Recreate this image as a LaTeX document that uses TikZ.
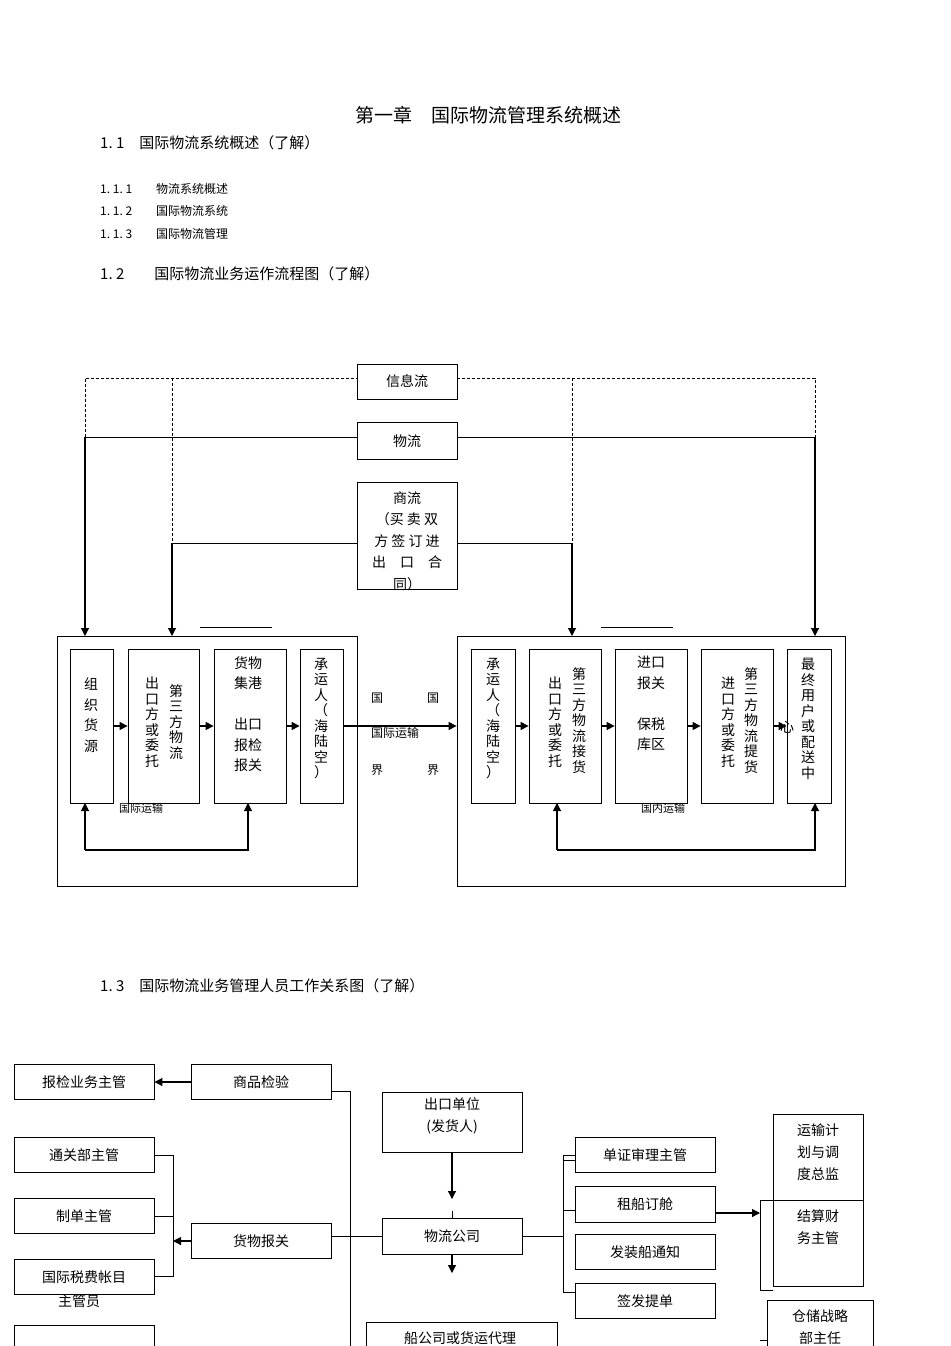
\documentclass[tikz,border=0pt]{standalone}
\usepackage{fontspec}
\setmainfont{Noto Sans CJK SC}
\usetikzlibrary{arrows.meta}
\begin{document}
\begin{tikzpicture}[x=1pt,y=-1pt,
  bx/.style={draw,line width=0.8pt,inner sep=0},
  vt/.style={align=center,font=\fontsize{14}{20.5}\selectfont,inner sep=0},
  vs/.style={align=center,font=\fontsize{14}{15.5}\selectfont,inner sep=0},
  t/.style={font=\fontsize{14}{16}\selectfont,inner sep=0},
  ar/.style={-{Triangle[length=8pt,width=8pt]},line width=1.1pt},
  ln/.style={line width=1pt},
  dl/.style={dash pattern=on 3pt off 2pt,line width=0.7pt}]
\useasboundingbox (0,0) rectangle (950,1346);
% headings
\node[font=\fontsize{19}{22}\selectfont] (h0) at (488,115) {第一章\quad 国际物流管理系统概述};
\node[t,anchor=west,font=\fontsize{15}{17}\selectfont] (h1) at (100,143) {1.\ 1\quad 国际物流系统概述（了解）};
\node[t,anchor=west,font=\fontsize{12}{14}\selectfont] (h11) at (100,189) {1.\ 1.\ 1\qquad 物流系统概述};
\node[t,anchor=west,font=\fontsize{12}{14}\selectfont] (h12) at (100,211) {1.\ 1.\ 2\qquad 国际物流系统};
\node[t,anchor=west,font=\fontsize{12}{14}\selectfont] (h13) at (100,234) {1.\ 1.\ 3\qquad 国际物流管理};
\node[t,anchor=west,font=\fontsize{15}{17}\selectfont] (h2) at (100,274) {1.\ 2\qquad 国际物流业务运作流程图（了解）};
\node[t,anchor=west,font=\fontsize{15}{17}\selectfont] (h3) at (100,986) {1.\ 3\quad 国际物流业务管理人员工作关系图（了解）};
% top flow boxes
\node[bx,minimum width=100,minimum height=35] (xx) at (407,382) {};
\node[t] at (407,381) {信息流};
\node[bx,minimum width=100,minimum height=37] (wl) at (407,441) {};
\node[t] at (407,441) {物流};
\node[bx,minimum width=100,minimum height=107] (sl) at (407,536) {};
\node[t,align=center,font=\fontsize{14}{21.5}\selectfont] at (407,541) {商流\\（买 卖 双\\方 签 订 进\\出\quad 口\quad 合\\同）};
\coordinate (d1) at (85,378); \coordinate (d2) at (172,378);
\coordinate (d3) at (572,378); \coordinate (d4) at (815,378);
\draw[dl] (85,437) -- (d1) -- (xx.west |- d1);
\draw[dl] (xx.east |- d4) -- (d4) -- (815,437);
\draw[dl] (d2) -- (172,543);
\draw[dl] (d3) -- (572,543);
\draw[ln] (wl.west |- 0,437) -- (85,437);
\draw[ln] (wl.east |- 0,437) -- (815,437);
\draw[ln] (sl.west |- 0,543) -- (172,543);
\draw[ln] (sl.east |- 0,543) -- (572,543);
\draw[ar] (85,437) -- (85,636);
\draw[ar] (815,437) -- (815,636);
\draw[ar] (172,543) -- (172,636);
\draw[ar] (572,543) -- (572,636);
\draw[line width=0.6pt] (200,627) -- (272,627);
\draw[line width=0.6pt] (601,627) -- (673,627);
% big boxes
\node[bx,minimum width=300,minimum height=250] (L) at (207,761) {};
\node[bx,minimum width=388,minimum height=250] (R) at (651,761) {};
% left inner
\node[bx,minimum width=43,minimum height=154] (a1) at (91.5,726) {};
\node[bx,minimum width=71,minimum height=154] (a2) at (163.5,726) {};
\node[bx,minimum width=72,minimum height=154] (a3) at (250,726) {};
\node[bx,minimum width=43,minimum height=154] (a4) at (321.5,726) {};
\node[vt,anchor=north] at (91,678) {组\\织\\货\\源};
\node[vs,anchor=north] at (152,677) {出\\口\\方\\或\\委\\托};
\node[vs,anchor=north] at (176,684) {第\\三\\方\\物\\流};
\node[vt,anchor=north] at (248,656) {货物\\集港\\\\出口\\报检\\报关};
\node[vs,anchor=north] at (321,658) {承\\运\\人\\（\\海\\陆\\空\\）};
\draw[ar] (a1) -- (a2);
\draw[ar] (a2) -- (a3);
\draw[ar] (a3) -- (a4);
% right inner
\node[bx,minimum width=44,minimum height=154] (b1) at (493,726) {};
\node[bx,minimum width=72,minimum height=154] (b2) at (565,726) {};
\node[bx,minimum width=72,minimum height=154] (b3) at (651,726) {};
\node[bx,minimum width=72,minimum height=154] (b4) at (737,726) {};
\node[bx,minimum width=44,minimum height=154] (b5) at (809,726) {};
\node[vs,anchor=north] at (493,658) {承\\运\\人\\（\\海\\陆\\空\\）};
\node[vs,anchor=north] at (555,677) {出\\口\\方\\或\\委\\托};
\node[vs,anchor=north] at (579,667) {第\\三\\方\\物\\流\\接\\货};
\node[vt,anchor=north] at (651,656) {进口\\报关\\\\保税\\库区};
\node[vs,anchor=north] at (728,677) {进\\口\\方\\或\\委\\托};
\node[vs,anchor=north] at (751,667) {第\\三\\方\\物\\流\\提\\货};
\node[vs,anchor=north] at (808,658) {最\\终\\用\\户\\或\\配\\送\\中};
\node[t] at (787,727) {心};
\draw[ar] (b1) -- (b2);
\draw[ar] (b2) -- (b3);
\draw[ar] (b3) -- (b4);
\draw[ar] (b4) -- (b5);
\draw[ar] (a4.east) -- (R.west |- a4.east);
\node[t,font=\fontsize{12}{13}\selectfont] at (377,698) {国};
\node[t,font=\fontsize{12}{13}\selectfont] at (433,698) {国};
\node[t,font=\fontsize{12}{13}\selectfont] at (395,733) {国际运输};
\node[t,font=\fontsize{12}{13}\selectfont] at (377,770) {界};
\node[t,font=\fontsize{12}{13}\selectfont] at (433,770) {界};
\node[t,font=\fontsize{11}{12}\selectfont] at (141,808) {国际运输};
\node[t,font=\fontsize{11}{12}\selectfont] at (663,808) {国内运输};
\coordinate (fl) at (85,850); \coordinate (fr) at (248,850);
\draw[ar] (fl) -- (85,803);
\draw[ar] (fl) -- (fr) -- (248,803);
\coordinate (gl) at (557,850); \coordinate (gr) at (815,850);
\draw[ar] (gl) -- (557,803);
\draw[ar] (gl) -- (gr) -- (815,803);
% bottom chart
\tikzset{ob/.style={draw,line width=0.9pt,minimum width=140,minimum height=35,font=\fontsize{14}{16}\selectfont,inner sep=0}}
\node[ob] (c1) at (84,1082) {报检业务主管};
\node[ob] (c2) at (261,1082) {商品检验};
\node[ob] (c3) at (84,1155) {通关部主管};
\node[ob] (c4) at (84,1216) {制单主管};
\node[ob] (c5) at (84,1277) {国际税费帐目};
\node[t] at (79,1301) {主管员};
\draw[line width=0.9pt] (14,1346) -- (14,1325) -- (154,1325) -- (154,1346);
\node[ob] (c6) at (261,1241) {货物报关};
\draw[ar] (c2) -- (c1);
\coordinate (k1) at (173,1155); \coordinate (k2) at (173,1276); \coordinate (k3) at (173,1241);
\draw[ln] (c3.east) -- (k1) -- (k2) -- (c5.east |- k2);
\draw[ln] (c4.east) -- (173,1216);
\draw[ar] (c6.west) -- (k3);
\coordinate (v1) at (350,1091); \coordinate (v2) at (350,1346);
\draw[line width=0.6pt] (c2.east |- v1) -- (v1) -- (v2);
\node[ob,minimum height=60] (e1) at (452,1122) {};
\node[t,align=center,font=\fontsize{14}{22}\selectfont] at (452,1116) {出口单位\\(发货人)};
\node[ob,minimum height=36] (e2) at (452,1236) {物流公司};
\draw[ar] (e1.south) -- (452,1199);
\draw[line width=0.8pt] (452,1211) -- (452,1218);
\draw[ar] (e2.south) -- (452,1273);
\draw[ln] (c6.east |- e2.west) -- (e2.west);
\node[draw,line width=0.9pt,minimum width=191,minimum height=40,inner sep=0] (e3) at (461.5,1342) {};
\node[t] at (460,1338) {船公司或货运代理};
\node[ob] (r1) at (645,1155) {单证审理主管};
\node[ob,minimum height=36] (r2) at (645,1204) {租船订舱};
\node[ob] (r3) at (645,1252) {发装船通知};
\node[ob] (r4) at (645,1301) {签发提单};
\coordinate (m1) at (563,1155); \coordinate (m2) at (563,1292);
\draw[ln] (e2.east) -- (563,1236);
\draw[ln] (r1.west) -- (m1) -- (m2) -- (r4.west |- m2);
\draw[line width=0.6pt] (563,1160) -- (r1.west |- 0,1160);
\draw[ln] (563,1210) -- (r2.west |- 0,1210);
\node[draw,line width=0.9pt,minimum width=90,minimum height=172,inner sep=0] (s1) at (818,1200) {};
\draw[line width=0.9pt] (773,1200) -- (863,1200);
\node[t,align=center,font=\fontsize{14}{22}\selectfont,anchor=north] at (818,1123) {运输计\\划与调\\度总监};
\node[t,align=center,font=\fontsize{14}{22}\selectfont,anchor=north] at (818,1209) {结算财\\务主管};
\coordinate (br) at (760,1213);
\draw[ar] (r2.east |- br) -- (br);
\draw[line width=0.6pt] (773,1200) -- (760,1200) -- (760,1290) -- (773,1290);
\node[draw,line width=0.9pt,minimum width=106,minimum height=60,inner sep=0] (s2) at (820,1330) {};
\node[t,align=center,font=\fontsize{14}{22}\selectfont,anchor=north] at (820,1309) {仓储战略\\部主任};
\draw[line width=0.6pt] (760,1340) -- (767,1340);
\end{tikzpicture}
\end{document}
